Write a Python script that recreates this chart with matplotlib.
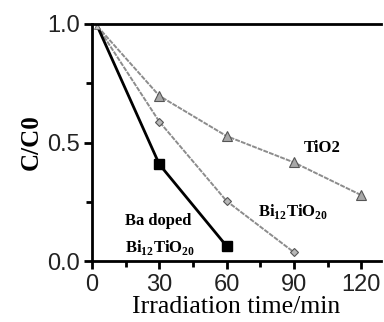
import numpy as np
import matplotlib
matplotlib.use('Agg')
import matplotlib.pyplot as plt
from matplotlib.ticker import MultipleLocator

plt.rcParams['mathtext.fontset'] = 'custom'
plt.rcParams['mathtext.rm'] = 'Liberation Serif:bold'
plt.rcParams['mathtext.bf'] = 'Liberation Serif:bold'

# values
t_tio2 = [2.4, 30, 60, 90, 120]
c_tio2 = [0.99, 0.697, 0.527, 0.416, 0.278]

t_bto = [2.4, 30, 60, 90]
c_bto = [0.99, 0.588, 0.253, 0.037]

t_ba = [2.4, 30, 60]
c_ba = [0.99, 0.408, 0.063]

x_ticks = [0, 30, 60, 90, 120]
y_ticks = [0.0, 0.5, 1.0]

fig = plt.figure(figsize=(3.84, 3.22), dpi=100)
ax = fig.add_axes([0.2396, 0.1894, 0.7524, 0.7361])

gray_style = dict(color='#8c8c8c', linewidth=1.4, linestyle=(0, (2.5, 0.6)))
ax.plot(t_tio2, c_tio2, **gray_style)
ax.plot(t_tio2[1:], c_tio2[1:], linestyle='none', marker='^', markersize=7.5,
        markerfacecolor='#a8a8a8', markeredgecolor='#555555', markeredgewidth=0.8)
ax.plot(t_bto, c_bto, **gray_style)
ax.plot(t_bto[1:], c_bto[1:], linestyle='none', marker='D', markersize=4.5,
        markerfacecolor='#b8b8b8', markeredgecolor='#555555', markeredgewidth=0.8)
ax.plot(t_ba, c_ba, color='black', linewidth=2.0)
ax.plot(t_ba[1:], c_ba[1:], linestyle='none', marker='s', markersize=6.5,
        markerfacecolor='black', markeredgecolor='black')
# tiny marker at the shared start point
ax.plot(t_tio2[:1], c_tio2[:1], linestyle='none', marker='^', markersize=4,
        markerfacecolor='#c0c0c0', markeredgecolor='#666666', markeredgewidth=0.6)

ax.set_xlim(0, 128.8)
ax.set_ylim(0, 1.0)
ax.set_xticks(x_ticks)
ax.set_yticks(y_ticks)
ax.set_yticklabels(['0.0', '0.5', '1.0'])
ax.xaxis.set_minor_locator(MultipleLocator(15))
ax.yaxis.set_minor_locator(MultipleLocator(0.25))

for side in ['left', 'bottom', 'top']:
    ax.spines[side].set_linewidth(2)
ax.spines['right'].set_visible(False)
ax.tick_params(which='major', direction='out', length=6, width=2, pad=3,
               labelsize=17, labelcolor='#222222')
ax.tick_params(which='minor', direction='out', length=4, width=2)
for lab in ax.get_xticklabels() + ax.get_yticklabels():
    lab.set_family('Liberation Sans')

ax.set_xlabel('Irradiation time/min', family='Liberation Serif', fontsize=18.5, labelpad=0)
ax.set_ylabel('C/C0', family='Liberation Serif', fontsize=18, fontweight='bold', labelpad=3)

ax.text(102.5, 0.477, 'TiO2', family='Liberation Serif', fontweight='bold',
        fontsize=12, ha='center', va='center')
ax.text(74, 0.211, r'Bi$_{\mathregular{12}}$TiO$_{\mathregular{20}}$', family='Liberation Serif',
        fontweight='bold', fontsize=12, ha='left', va='center')
ax.text(14.7, 0.169, 'Ba doped', family='Liberation Serif', fontweight='bold',
        fontsize=12, ha='left', va='center')
ax.text(14.7, 0.059, r'Bi$_{\mathregular{12}}$TiO$_{\mathregular{20}}$', family='Liberation Serif',
        fontweight='bold', fontsize=12, ha='left', va='center')

fig.savefig('out.png', dpi=100)
